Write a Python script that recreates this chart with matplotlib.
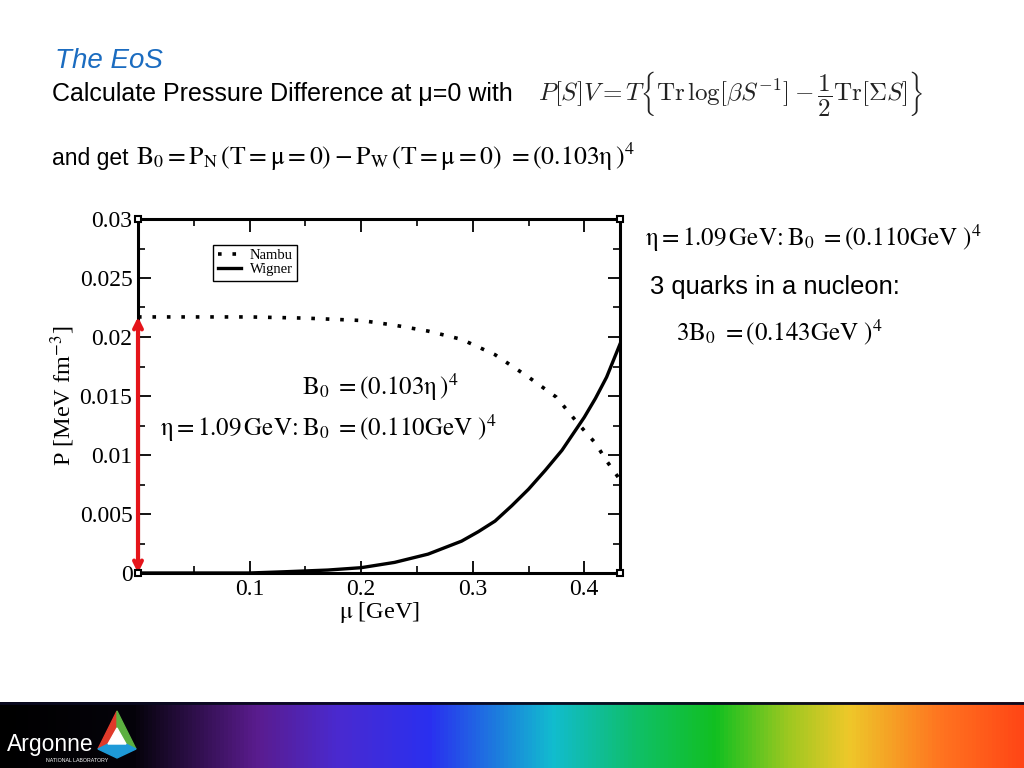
import numpy as np
import matplotlib
matplotlib.use("Agg")
import matplotlib.pyplot as plt
from matplotlib.colors import LinearSegmentedColormap
from matplotlib.patches import Polygon
from matplotlib.ticker import MultipleLocator

plt.rcParams['font.family'] = ['Liberation Serif', 'DejaVu Serif']
plt.rcParams['mathtext.fontset'] = 'stix'

# values
nambu_mu = [0.0, 0.05, 0.10, 0.15, 0.20, 0.23, 0.26, 0.29, 0.32, 0.35,
            0.375, 0.395, 0.41, 0.42, 0.432]
nambu_p = [0.0217, 0.0217, 0.0217, 0.0216, 0.0214, 0.0210, 0.0205, 0.0198,
           0.0185, 0.0166, 0.0149, 0.0126, 0.0110, 0.0095, 0.0079]

wigner_mu = [0.0, 0.10, 0.13, 0.17, 0.20, 0.23, 0.26, 0.29, 0.305, 0.32, 0.335,
             0.35, 0.365, 0.38, 0.39, 0.40, 0.41, 0.42, 0.432]
wigner_p = [0.0, 0.0, 0.0001, 0.00025, 0.00045, 0.0009, 0.0016, 0.0027, 0.0035,
            0.0044, 0.0057, 0.0071, 0.0087, 0.0104, 0.0118, 0.0132, 0.0148,
            0.0166, 0.0194]

x_ticks = [0.1, 0.2, 0.3, 0.4]
x_labels = ["0.1", "0.2", "0.3", "0.4"]
y_ticks = [0, 0.005, 0.01, 0.015, 0.02, 0.025, 0.03]
y_labels = ["0", "0.005", "0.01", "0.015", "0.02", "0.025", "0.03"]
mu_max = 0.432
p_max = 0.03

fig = plt.figure(figsize=(10.24, 7.68), dpi=100)

# slide text
fig.text(55/1024, 1 - 68/768, "The EoS", family=['Liberation Sans'],
         style='italic', fontsize=20, color='#1b6cc0')
fig.text(52/1024, 1 - 94/768, "Calculate Pressure Difference at \u03bc=0 with",
         family=['Liberation Sans'], fontsize=18, va='center')
fig.text(538/1024, 1 - 93/768,
         r"$P[S]V = T\left\{\mathrm{Tr}\,\log[\beta S^{-1}] - \dfrac{1}{2}\mathrm{Tr}[\Sigma S]\right\}$",
         math_fontfamily='cm', fontsize=18, va='center', color='#222222')
fig.text(52/1024, 1 - 158/768, "and get", family=['Liberation Sans'], fontsize=16.5, va='center')
fig.text(136/1024, 1 - 157/768,
         r"$\mathrm{B}_0 = \mathrm{P_N}\,(\mathrm{T} = \mathrm{\mu} = 0) - \mathrm{P_W}\,(\mathrm{T} = \mathrm{\mu} = 0)\ = (0.103\mathrm{\eta}\,)^4$",
         fontsize=18.5, va='center')

fig.text(645/1024, 1 - 238/768,
         r"$\mathrm{\eta} = 1.09\,\mathrm{GeV}\!:\mathrm{B}_0\ = (0.110\mathrm{GeV}\ )^4$",
         fontsize=18, va='center')
fig.text(650/1024, 1 - 287/768, "3 quarks in a nucleon:", family=['Liberation Sans'],
         fontsize=18.4, va='center')
fig.text(676/1024, 1 - 332/768, r"$3\mathrm{B}_0\ = (0.143\mathrm{GeV}\ )^4$",
         fontsize=18, va='center')

# chart
ax = fig.add_axes([138/1024, 1 - 573/768, 482/1024, 354/768])
ax.plot(nambu_mu, nambu_p, color='black', lw=2.6, linestyle=(0, (1, 3)),
        dash_capstyle='butt', label='Nambu')
ax.plot(wigner_mu, wigner_p, color='black', lw=2.4, label='Wigner')
ax.annotate('', xy=(0, nambu_p[0]), xytext=(0, 0),
            arrowprops=dict(arrowstyle='<->', color='#e5141a', lw=3,
                            mutation_scale=14, shrinkA=0, shrinkB=0), zorder=6)
ax.plot([0, mu_max, 0, mu_max], [0, 0, p_max, p_max], 's', ms=5, mfc='white',
        mec='black', mew=1.5, clip_on=False, zorder=7)

ax.set_xlim(0, mu_max)
ax.set_ylim(0, p_max)
ax.set_xticks(x_ticks)
ax.set_xticklabels(x_labels)
ax.set_yticks(y_ticks)
ax.set_yticklabels(y_labels)
ax.xaxis.set_minor_locator(MultipleLocator(0.05))
ax.yaxis.set_minor_locator(MultipleLocator(0.0025))
ax.tick_params(which='both', direction='in', top=True, right=True, labelsize=17)
ax.tick_params(which='major', length=9, width=1.3, pad=4)
ax.tick_params(which='minor', length=5, width=1.2)
for s in ax.spines.values():
    s.set_linewidth(2.2)
ax.set_xlabel(r"$\mathrm{\mu}$ [GeV]", fontsize=17.5, labelpad=0)
ax.set_ylabel(r"P [MeV fm$^{-3}$]", fontsize=17.5, labelpad=2)

leg = ax.legend(loc='upper left', bbox_to_anchor=(0.156, 0.927), borderaxespad=0,
                fontsize=10.5, handlelength=1.6, handletextpad=0.6, borderpad=0.3,
                labelspacing=0.05, fancybox=False, framealpha=1)
leg.get_frame().set_edgecolor('black')
leg.get_frame().set_linewidth(1)

fig.text(380/1024, 1 - 387/768, r"$\mathrm{B}_0\ = (0.103\mathrm{\eta}\,)^4$", fontsize=18,
         ha='center', va='center')
fig.text(160/1024, 1 - 428/768,
         r"$\mathrm{\eta} = 1.09\,\mathrm{GeV}\!:\mathrm{B}_0\ = (0.110\mathrm{GeV}\ )^4$",
         fontsize=18, va='center')

# footer band
bar = fig.add_axes([0, 0, 1, 66/768])
band = LinearSegmentedColormap.from_list('band', [
    (0.0, '#000000'), (0.13, '#05030a'), (0.25, '#5a1c8e'), (0.33, '#4a2ad0'),
    (0.42, '#2a30f0'), (0.54, '#12bccf'), (0.62, '#0fbf6a'), (0.70, '#12c020'),
    (0.77, '#9cc820'), (0.83, '#eec82a'), (0.92, '#ff7420'), (1.0, '#ff4616')])
bar.imshow(np.linspace(0, 1, 512)[None, :], cmap=band, aspect='auto',
           extent=[0, 1024, 768, 702])
bar.set_xlim(0, 1024)
bar.set_ylim(768, 702)
bar.axhline(703, color='#0a0a20', lw=2)
bar.add_patch(Polygon([(117, 711), (98, 749), (108, 744), (117, 728)], color='#e03a2a'))
bar.add_patch(Polygon([(117, 711), (117, 728), (126, 744), (136, 749)], color='#5cb040'))
bar.add_patch(Polygon([(98, 749), (108, 744), (126, 744), (136, 749), (117, 758)],
                      color='#1e9ad8'))
bar.add_patch(Polygon([(117, 728), (108, 744), (126, 744)], color='white'))
bar.text(7, 745, "Argonne", family=['Liberation Sans'],
         fontsize=16.5, color='white', va='center')
bar.text(46, 760, "NATIONAL LABORATORY", family=['Liberation Sans'], fontsize=3.8,
         color='white', va='center')
bar.axis('off')

fig.savefig("out.png", dpi=100)
